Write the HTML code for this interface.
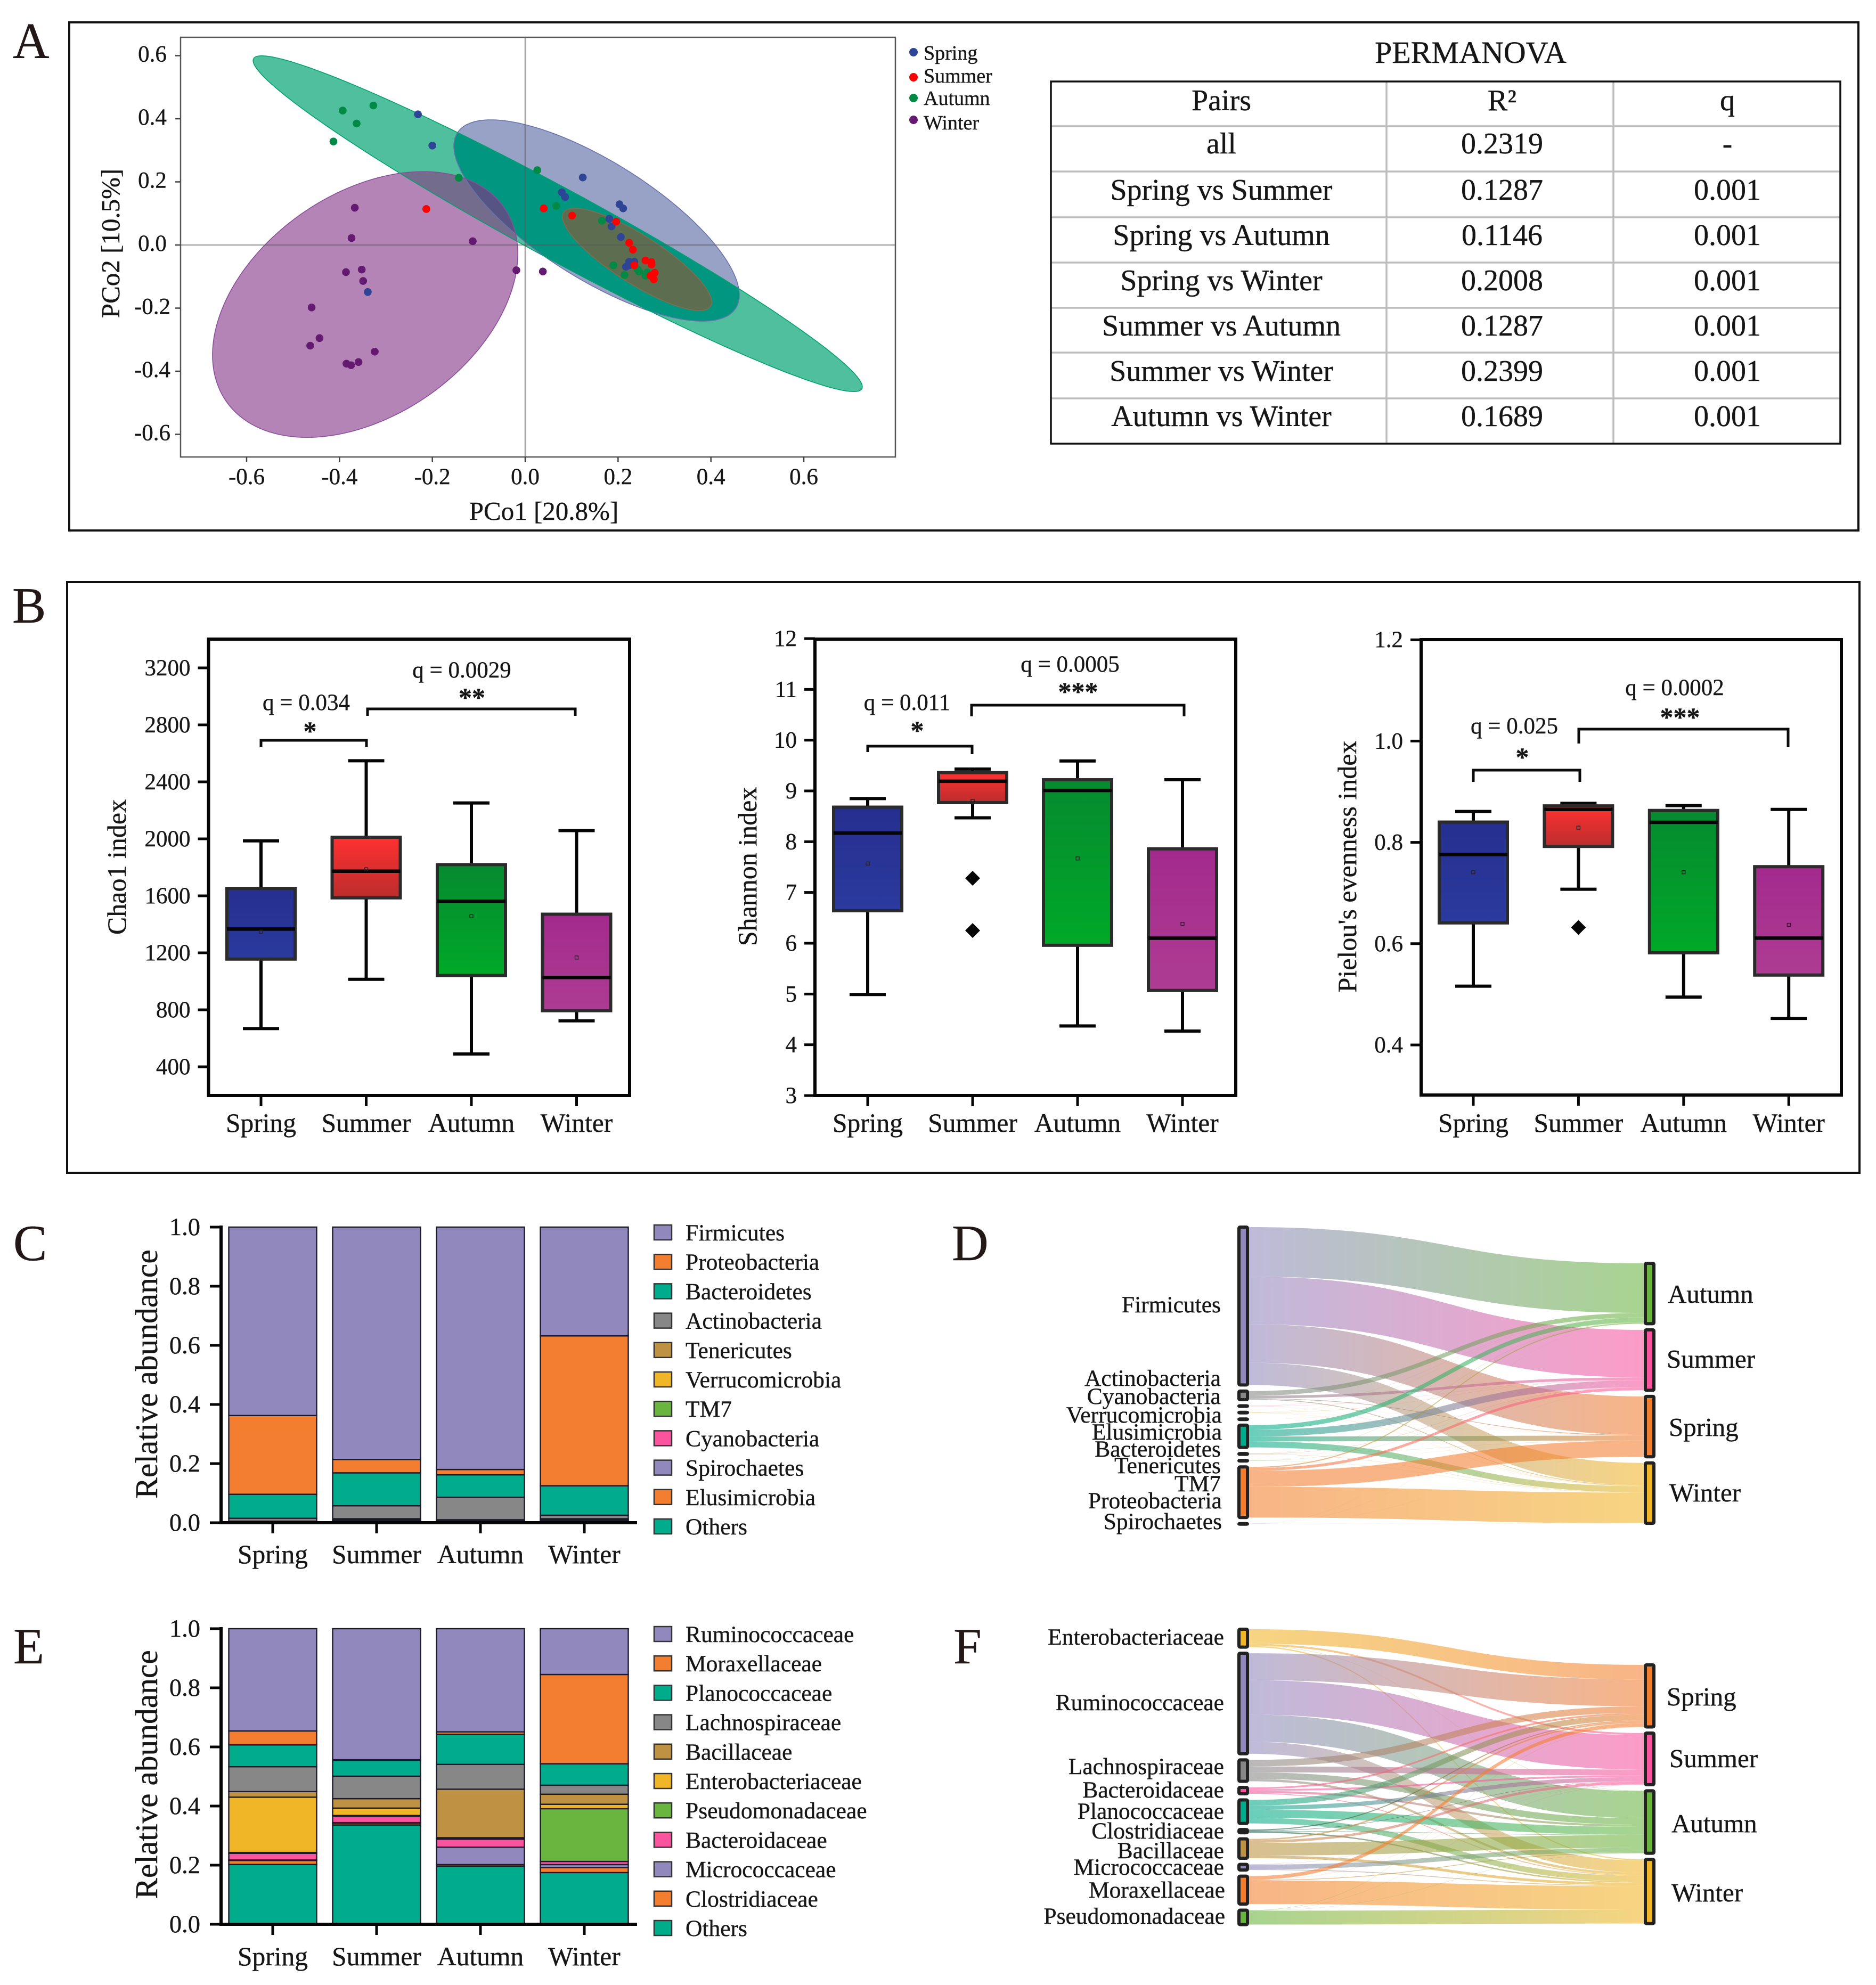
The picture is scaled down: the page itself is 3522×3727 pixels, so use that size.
<!DOCTYPE html>
<html lang="en">
<head>
<meta charset="utf-8">
<title>Seasonal microbiome composition figure</title>
<style>
html,body{margin:0;padding:0;background:#fff}
svg{display:block}
text{font-family:"Liberation Serif","Noto Serif CJK SC",serif;fill:#161616;stroke:#161616;stroke-width:.4}
.letter{font-size:95px;fill:#231815}
.tb{font-size:56px;text-anchor:middle}
.q{font-size:43px;text-anchor:middle}
.star{font-size:50px;font-weight:bold;text-anchor:middle}
.ylab{font-size:50px;text-anchor:middle}
.rel{font-size:59.5px;text-anchor:middle}
.sl{font-size:43.5px;text-anchor:end}
.sr{font-size:49px}
.lg{font-size:38px}
.bracket{fill:none;stroke:#0a0a0a;stroke-width:5}
</style>
</head>
<body>
<svg id="figure" xmlns="http://www.w3.org/2000/svg" width="3522" height="3727" viewBox="0 0 3522 3727">
<defs>
<linearGradient id="box-spring" x1="0" y1="0" x2="0" y2="1"><stop offset="0" stop-color="#252F8F"/><stop offset="1" stop-color="#2B3A9E"/></linearGradient>
<linearGradient id="box-summer" x1="0" y1="0" x2="0" y2="1"><stop offset="0" stop-color="#FF3030"/><stop offset="1" stop-color="#BC2E2E"/></linearGradient>
<linearGradient id="box-autumn" x1="0" y1="0" x2="0" y2="1"><stop offset="0" stop-color="#068A30"/><stop offset="1" stop-color="#00A928"/></linearGradient>
<linearGradient id="box-winter" x1="0" y1="0" x2="0" y2="1"><stop offset="0" stop-color="#A32A8D"/><stop offset="1" stop-color="#AE3C93"/></linearGradient>
</defs>
<rect width="3522" height="3727" fill="#fff"/>

<rect x="130" y="42" width="3359" height="954" fill="none" stroke="#111" stroke-width="4"/>
<rect x="126" y="1093" width="3365" height="1109" fill="none" stroke="#111" stroke-width="4"/>

<text class="letter" x="24" y="109">A</text>
<text class="letter" x="23" y="1169">B</text>
<text class="letter" x="25" y="2366">C</text>
<text class="letter" x="1787" y="2366">D</text>
<text class="letter" x="25" y="3123">E</text>
<text class="letter" x="1790" y="3123">F</text>

<g id="pcoa"></g>
<text x="1021" y="976" font-size="49" text-anchor="middle">PCo1 [20.8%]</text>
<text transform="translate(224 457) rotate(-90)" font-size="49" text-anchor="middle">PCo2 [10.5%]</text>
<text class="lg" x="1734" y="112">Spring</text>
<text class="lg" x="1734" y="155">Summer</text>
<text class="lg" x="1734" y="197">Autumn</text>
<text class="lg" x="1734" y="243">Winter</text>

<g>
<text x="2761" y="118" font-size="58" text-anchor="middle">PERMANOVA</text>
<g stroke="#bdbdbd" stroke-width="3.5">
<line x1="1973" x2="3455" y1="237" y2="237"/>
<line x1="1973" x2="3455" y1="322" y2="322"/>
<line x1="1973" x2="3455" y1="408" y2="408"/>
<line x1="1973" x2="3455" y1="493" y2="493"/>
<line x1="1973" x2="3455" y1="578" y2="578"/>
<line x1="1973" x2="3455" y1="662" y2="662"/>
<line x1="1973" x2="3455" y1="748" y2="748"/>
<line x1="2603" x2="2603" y1="153" y2="833"/>
<line x1="3029" x2="3029" y1="153" y2="833"/>
</g>
<rect x="1973" y="153" width="1482" height="680" fill="none" stroke="#111" stroke-width="3.5"/>
<text class="tb" x="2293" y="207">Pairs</text>
<text class="tb" x="2820" y="207">R²</text>
<text class="tb" x="3243" y="207">q</text>
<text class="tb" x="2293" y="288">all</text>
<text class="tb" x="2820" y="288">0.2319</text>
<text class="tb" x="3243" y="288">-</text>
<text class="tb" x="2293" y="375">Spring vs Summer</text>
<text class="tb" x="2820" y="375">0.1287</text>
<text class="tb" x="3243" y="375">0.001</text>
<text class="tb" x="2293" y="460">Spring vs Autumn</text>
<text class="tb" x="2820" y="460">0.1146</text>
<text class="tb" x="3243" y="460">0.001</text>
<text class="tb" x="2293" y="545">Spring vs Winter</text>
<text class="tb" x="2820" y="545">0.2008</text>
<text class="tb" x="3243" y="545">0.001</text>
<text class="tb" x="2293" y="630">Summer vs Autumn</text>
<text class="tb" x="2820" y="630">0.1287</text>
<text class="tb" x="3243" y="630">0.001</text>
<text class="tb" x="2293" y="715">Summer vs Winter</text>
<text class="tb" x="2820" y="715">0.2399</text>
<text class="tb" x="3243" y="715">0.001</text>
<text class="tb" x="2293" y="800">Autumn vs Winter</text>
<text class="tb" x="2820" y="800">0.1689</text>
<text class="tb" x="3243" y="800">0.001</text>
</g>

<g id="chao"></g>
<g id="shannon"></g>
<g id="pielou"></g>
<text class="ylab" transform="translate(236 1628) rotate(-90)">Chao1 index</text>
<text class="ylab" transform="translate(1420 1627) rotate(-90)">Shannon index</text>
<text class="ylab" transform="translate(2546 1627) rotate(-90)">Pielou's evenness index</text>

<path class="bracket" d="M490 1403V1390H688V1403"/>
<text class="star" x="582" y="1389">*</text>
<text class="q" x="575" y="1333">q = 0.034</text>
<path class="bracket" d="M690 1344V1331H1080V1344"/>
<text class="star" x="886" y="1326">**</text>
<text class="q" x="867" y="1272">q = 0.0029</text>

<path class="bracket" d="M1629 1412V1401H1825V1416"/>
<text class="star" x="1722" y="1388">*</text>
<text class="q" x="1703" y="1333">q = 0.011</text>
<path class="bracket" d="M1824 1345V1324H2223V1345"/>
<text class="star" x="2024" y="1315">***</text>
<text class="q" x="2009" y="1261">q = 0.0005</text>

<path class="bracket" d="M2766 1468V1446H2966V1468"/>
<text class="star" x="2858" y="1438">*</text>
<text class="q" x="2843" y="1377">q = 0.025</text>
<path class="bracket" d="M2964 1396V1369H3357V1403"/>
<text class="star" x="3154" y="1363">***</text>
<text class="q" x="3144" y="1305">q = 0.0002</text>

<g id="barC"></g>
<g id="barE"></g>
<text class="rel" transform="translate(295 2580) rotate(-90)">Relative abundance</text>
<text class="rel" transform="translate(295 3332) rotate(-90)">Relative abundance</text>

<g id="sankeyD"></g>
<g id="sankeyF"></g>

<text class="sl" x="2292" y="2464">Firmicutes</text>
<text class="sl" x="2292" y="2602">Actinobacteria</text>
<text class="sl" x="2292" y="2636">Cyanobacteria</text>
<text class="sl" x="2294" y="2671">Verrucomicrobia</text>
<text class="sl" x="2294" y="2703">Elusimicrobia</text>
<text class="sl" x="2292" y="2735">Bacteroidetes</text>
<text class="sl" x="2292" y="2766">Tenericutes</text>
<text class="sl" x="2292" y="2800">TM7</text>
<text class="sl" x="2294" y="2832">Proteobacteria</text>
<text class="sl" x="2294" y="2871">Spirochaetes</text>
<text class="sr" x="3131" y="2446">Autumn</text>
<text class="sr" x="3129" y="2568">Summer</text>
<text class="sr" x="3133" y="2696">Spring</text>
<text class="sr" x="3134" y="2819">Winter</text>

<text class="sl" x="2298" y="3088">Enterobacteriaceae</text>
<text class="sl" x="2298" y="3211">Ruminococcaceae</text>
<text class="sl" x="2298" y="3331">Lachnospiraceae</text>
<text class="sl" x="2298" y="3375">Bacteroidaceae</text>
<text class="sl" x="2298" y="3415">Planococcaceae</text>
<text class="sl" x="2298" y="3452">Clostridiaceae</text>
<text class="sl" x="2298" y="3489">Bacillaceae</text>
<text class="sl" x="2298" y="3520">Micrococcaceae</text>
<text class="sl" x="2300" y="3563">Moraxellaceae</text>
<text class="sl" x="2300" y="3612">Pseudomonadaceae</text>
<text class="sr" x="3129" y="3202">Spring</text>
<text class="sr" x="3134" y="3318">Summer</text>
<text class="sr" x="3138" y="3440">Autumn</text>
<text class="sr" x="3138" y="3570">Winter</text>
</svg>

<script>
/* ---------- shared categories ---------- */
const seasons = ['Spring', 'Summer', 'Autumn', 'Winter'];

/* ---------- panel A: PCoA values ---------- */
const pcoXTicks = [-0.6, -0.4, -0.2, 0, 0.2, 0.4, 0.6];
const pcoYTicks = [0.6, 0.4, 0.2, 0, -0.2, -0.4, -0.6];

const springPcoX = [-0.231, -0.200, 0.124, 0.079, 0.086, 0.203, 0.211, 0.181, 0.186, 0.206, 0.224, 0.235, 0.217, 0.224, -0.339];
const springPcoY = [0.414, 0.315, 0.214, 0.167, 0.152, 0.129, 0.116, 0.083, 0.059, 0.025, -0.053, -0.053, -0.069, -0.064, -0.149];
const summerPcoX = [-0.213, 0.040, 0.101, 0.196, 0.224, 0.232, 0.259, 0.272, 0.272, 0.235, 0.279, 0.277, 0.270];
const summerPcoY = [0.114, 0.116, 0.093, 0.074, 0.007, -0.015, -0.049, -0.054, -0.062, -0.064, -0.088, -0.109, -0.097];
const autumnPcoX = [-0.393, -0.327, -0.363, -0.413, -0.143, 0.026, 0.067, 0.165, 0.190, 0.214, 0.245, 0.242, 0.259, 0.263];
const autumnPcoY = [0.426, 0.442, 0.385, 0.328, 0.213, 0.237, 0.124, 0.077, -0.064, -0.095, -0.084, -0.077, -0.097, -0.087];
const winterPcoX = [-0.367, -0.374, -0.113, -0.019, 0.038, -0.386, -0.352, -0.349, -0.460, -0.443, -0.463, -0.324, -0.359, -0.385, -0.375];
const winterPcoY = [0.118, 0.022, 0.012, -0.080, -0.084, -0.086, -0.078, -0.114, -0.198, -0.295, -0.319, -0.338, -0.371, -0.376, -0.381];

/* ellipse summaries in data units: spring, summer, autumn, winter */
const ellipseCenterX = [0.1537, 0.2409, 0.070, -0.3447];
const ellipseCenterY = [0.0776, -0.0456, 0.0675, -0.1885];
const ellipseSpreadX = [0.3074, 0.1606, 0.656, 0.3287];
const ellipseSpreadY = [0.319, 0.162, 0.532, 0.4211];
const ellipseCorrelation = [-0.74, -0.835, -0.9715, 0.38];

/* ---------- panel B: box plot values (Spring, Summer, Autumn, Winter) ---------- */
const chaoTicks = [400, 800, 1200, 1600, 2000, 2400, 2800, 3200];
const chaoHigh = [1986, 2548, 2252, 2058];
const chaoQ3 = [1652, 2011, 1819, 1471];
const chaoMedian = [1367, 1773, 1562, 1027];
const chaoMean = [1348, 1786, 1457, 1167];
const chaoQ1 = [1156, 1586, 1041, 794];
const chaoLow = [668, 1014, 490, 723];
const chaoOutlierGroup = [];
const chaoOutlierValue = [];

const shannonTicks = [3, 4, 5, 6, 7, 8, 9, 10, 11, 12];
const shannonHigh = [8.85, 9.43, 9.59, 9.22];
const shannonQ3 = [8.68, 9.36, 9.22, 7.86];
const shannonMedian = [8.17, 9.19, 9.01, 6.10];
const shannonMean = [7.57, 8.80, 7.67, 6.38];
const shannonQ1 = [6.64, 8.77, 5.96, 5.07];
const shannonLow = [4.99, 8.47, 4.37, 4.27];
const shannonOutlierGroup = [1, 1];
const shannonOutlierValue = [7.28, 6.25];

const pielouTicks = [0.4, 0.6, 0.8, 1.0, 1.2];
const pielouHigh = [0.861, 0.877, 0.8725, 0.865];
const pielouQ3 = [0.840, 0.872, 0.863, 0.752];
const pielouMedian = [0.776, 0.865, 0.8395, 0.611];
const pielouMean = [0.741, 0.829, 0.741, 0.637];
const pielouQ1 = [0.641, 0.792, 0.582, 0.538];
const pielouLow = [0.516, 0.7075, 0.4945, 0.4525];
const pielouOutlierGroup = [1];
const pielouOutlierValue = [0.632];

/* ---------- panels C/D: phylum abundance by season ---------- */
const abundanceTicks = [0, 0.2, 0.4, 0.6, 0.8, 1.0];
const firmicutes = [0.6374, 0.786, 0.82, 0.368];
const proteobacteria = [0.2665, 0.0454, 0.018, 0.507];
const bacteroidetes = [0.0809, 0.1113, 0.076, 0.0997];
const actinobacteria = [0.0102, 0.0438, 0.0759, 0.0118];
const tenericutes = [0.002, 0.004, 0.003, 0.004];
const verrucomicrobia = [0.001, 0.003, 0.002, 0.003];
const tm7 = [0.0005, 0.002, 0.001, 0.002];
const cyanobacteria = [0.0005, 0.002, 0.002, 0.002];
const spirochaetes = [0.0003, 0.001, 0.001, 0.001];
const elusimicrobia = [0.0002, 0.0005, 0.0005, 0.0005];
const otherPhyla = [0.0005, 0.001, 0.0006, 0.001];

/* ---------- panels E/F: family abundance by season ---------- */
const ruminococcaceae = [0.346, 0.4435, 0.349, 0.155];
const moraxellaceae = [0.047, 0.0015, 0.0085, 0.302];
const planococcaceae = [0.074, 0.054, 0.1015, 0.0725];
const lachnospiraceae = [0.084, 0.076, 0.084, 0.0305];
const bacillaceae = [0.019, 0.032, 0.164, 0.034];
const enterobacteriaceae = [0.187, 0.025, 0.003, 0.015];
const pseudomonadaceae = [0.003, 0.002, 0.002, 0.1785];
const bacteroidaceae = [0.0225, 0.022, 0.027, 0.0105];
const micrococcaceae = [0.0015, 0.002, 0.059, 0.010];
const clostridiaceae = [0.0136, 0.006, 0.005, 0.017];
const otherFamilies = [0.2024, 0.336, 0.197, 0.175];

/* ---------- colours ---------- */
const PURPLE = '#9189BE', ORANGE = '#F37E2F', TEAL = '#00AC8B', GRAY = '#878787', TAN = '#BF9142', YELLOW = '#F1B627', GREEN = '#69B540', PINK = '#FA549F';
const seasonInk = ['#2E4494', '#FF0000', '#008A45', '#651A72'];
const seasonFlow = [ORANGE, PINK, GREEN, YELLOW];
const boxFills = ['url(#box-spring)', 'url(#box-summer)', 'url(#box-autumn)', 'url(#box-winter)'];

const phylumLegend = [
  ['Firmicutes', PURPLE, firmicutes], ['Proteobacteria', ORANGE, proteobacteria], ['Bacteroidetes', TEAL, bacteroidetes],
  ['Actinobacteria', GRAY, actinobacteria], ['Tenericutes', TAN, tenericutes], ['Verrucomicrobia', YELLOW, verrucomicrobia],
  ['TM7', GREEN, tm7], ['Cyanobacteria', PINK, cyanobacteria], ['Spirochaetes', PURPLE, spirochaetes],
  ['Elusimicrobia', ORANGE, elusimicrobia], ['Others', TEAL, otherPhyla]
];
const familyLegend = [
  ['Ruminococcaceae', PURPLE, ruminococcaceae], ['Moraxellaceae', ORANGE, moraxellaceae], ['Planococcaceae', TEAL, planococcaceae],
  ['Lachnospiraceae', GRAY, lachnospiraceae], ['Bacillaceae', TAN, bacillaceae], ['Enterobacteriaceae', YELLOW, enterobacteriaceae],
  ['Pseudomonadaceae', GREEN, pseudomonadaceae], ['Bacteroidaceae', PINK, bacteroidaceae], ['Micrococcaceae', PURPLE, micrococcaceae],
  ['Clostridiaceae', ORANGE, clostridiaceae], ['Others', TEAL, otherFamilies]
];
const phylumSankeySources = [
  [firmicutes, PURPLE], [actinobacteria, GRAY], [cyanobacteria, PINK], [verrucomicrobia, YELLOW], [elusimicrobia, ORANGE],
  [bacteroidetes, TEAL], [tenericutes, TAN], [tm7, GREEN], [proteobacteria, ORANGE], [spirochaetes, PURPLE]
];
const familySankeySources = [
  [enterobacteriaceae, YELLOW], [ruminococcaceae, PURPLE], [lachnospiraceae, GRAY], [bacteroidaceae, PINK], [planococcaceae, TEAL],
  [clostridiaceae, '#0b5a48'], [bacillaceae, TAN], [micrococcaceae, PURPLE], [moraxellaceae, ORANGE], [pseudomonadaceae, GREEN]
];

/* ---------- helpers ---------- */
const NS = 'http://www.w3.org/2000/svg';
function make(parent, tag, attrs, text) {
  const node = document.createElementNS(NS, tag);
  for (const k in attrs) node.setAttribute(k, attrs[k]);
  if (text !== undefined) node.textContent = text;
  parent.appendChild(node);
  return node;
}
const defs = document.querySelector('#figure defs');

/* ---------- panel A ---------- */
(function drawPcoa() {
  const g = document.getElementById('pcoa');
  const px = v => 986 + v * 871.7;
  const py = v => 460 - v * 592.5;
  const FR = { l: 339, r: 1681, t: 70, b: 858 };

  function ellipsePoints(i) {
    const delta = Math.acos(ellipseCorrelation[i]);
    const pts = [];
    for (let k = 0; k < 240; k++) {
      const t = k / 240 * 2 * Math.PI;
      pts.push(px(ellipseCenterX[i] + ellipseSpreadX[i] * Math.cos(t)).toFixed(1) + ',' +
               py(ellipseCenterY[i] + ellipseSpreadY[i] * Math.cos(t - delta)).toFixed(1));
    }
    return pts.join(' ');
  }
  const SPRING = 0, SUMMER = 1, AUTUMN = 2, WINTER = 3;
  const clipIds = ['clip-spring', 'clip-summer', 'clip-autumn', 'clip-winter'];
  [SPRING, AUTUMN, WINTER].forEach(i => {
    const cp = make(defs, 'clipPath', { id: clipIds[i] });
    make(cp, 'polygon', { points: ellipsePoints(i) });
  });

  const winterFill = make(g, 'polygon', { points: ellipsePoints(WINTER), fill: '#B484B6' });
  
  
  const springFill = make(g, 'polygon', { points: ellipsePoints(SPRING), fill: '#98A1C6' });
  
  
  const autumnFill = make(g, 'polygon', { points: ellipsePoints(AUTUMN), fill: '#4FBF9E' });
  
  

  const ws = make(g, 'polygon', { points: ellipsePoints(WINTER), fill: '#7A6AA0', 'clip-path': 'url(#clip-spring)' });
  
  
  const sa = make(g, 'polygon', { points: ellipsePoints(SPRING), fill: '#009680', 'clip-path': 'url(#clip-autumn)' });
  
  
  const wa = make(g, 'polygon', { points: ellipsePoints(WINTER), fill: '#736C8C', 'clip-path': 'url(#clip-autumn)' });
  
  
  const tripleGroup = make(g, 'g', { 'clip-path': 'url(#clip-autumn)' });
  const triple = make(tripleGroup, 'polygon', { points: ellipsePoints(WINTER), fill: '#565482', 'clip-path': 'url(#clip-spring)' });
  
  

  const outlines = [[SPRING, '#6873AC'], [AUTUMN, '#00A070'], [WINTER, '#8A4E9A']];
  outlines.forEach(o => {
    const ln = make(g, 'polygon', { points: ellipsePoints(o[0]), fill: 'none', stroke: o[1], 'stroke-width': 1.6 });
    
    
  });
  const summerFill = make(g, 'polygon', { points: ellipsePoints(SUMMER), fill: '#5D6E50', stroke: '#8A6A4A', 'stroke-width': 1.6 });
  
  

  const frame = make(g, 'rect', { x: FR.l, y: FR.t, width: FR.r - FR.l, height: FR.b - FR.t, fill: 'none', stroke: '#555', 'stroke-width': 2.5 });
  
  
  const zeroV = make(g, 'line', { x1: px(0), x2: px(0), y1: FR.t, y2: FR.b, stroke: 'rgba(90,90,90,.55)', 'stroke-width': 2.5 });
  
  
  const zeroH = make(g, 'line', { x1: FR.l, x2: FR.r, y1: py(0), y2: py(0), stroke: 'rgba(90,90,90,.55)', 'stroke-width': 2.5 });
  
  

  pcoXTicks.forEach(v => {
    const tick = make(g, 'line', { x1: px(v), x2: px(v), y1: FR.b, y2: FR.b + 9, stroke: '#444', 'stroke-width': 2.5 });
    
    
    const lab = make(g, 'text', { x: px(v), y: 909, 'font-size': 43, 'text-anchor': 'middle' }, v.toFixed(1));
    
    
  });
  pcoYTicks.forEach(v => {
    const tick = make(g, 'line', { x1: FR.l - 10, x2: FR.l, y1: py(v), y2: py(v), stroke: '#444', 'stroke-width': 2.5 });
    
    
    const lab = make(g, 'text', { x: 286, y: py(v) + 11, 'font-size': 43, 'text-anchor': 'middle' }, v.toFixed(1));
    
    
  });

  const series = [[springPcoX, springPcoY, 0], [autumnPcoX, autumnPcoY, 2], [summerPcoX, summerPcoY, 1], [winterPcoX, winterPcoY, 3]];
  series.forEach(s => {
    s[0].forEach((x, i) => {
      const dot = make(g, 'circle', { cx: px(x), cy: py(s[1][i]), r: 7.3, fill: seasonInk[s[2]] });
      
      
    });
  });
  const legendRow = c => [98, 145, 184, 225][c];
  seasons.forEach((s, c) => {
    const sw = make(g, 'circle', { cx: 1715, cy: legendRow(c), r: 8, fill: seasonInk[c] });
    
    
  });
})();

/* ---------- panel B ---------- */
function drawBox(c) {
  const g = document.getElementById(c.id);
  const frame = make(g, 'rect', { x: c.l, y: c.t, width: c.r - c.l, height: c.b - c.t, fill: 'none', stroke: '#050505', 'stroke-width': 6 });
  
  
  c.ticks.forEach(v => {
    const tick = make(g, 'line', { x1: c.l - 20, x2: c.l, y1: c.y(v), y2: c.y(v), stroke: '#050505', 'stroke-width': 5 });
    
    
    const lab = make(g, 'text', { x: c.l - 34, y: c.y(v) + 14, 'font-size': 43, 'text-anchor': 'end' }, c.fmt(v));
    
    
  });
  seasons.forEach((s, i) => {
    const x = c.x(i);
    const tick = make(g, 'line', { x1: x, x2: x, y1: c.b, y2: c.b + 20, stroke: '#050505', 'stroke-width': 5 });
    
    
    const lab = make(g, 'text', { x: x, y: 2125, 'font-size': 49.5, 'text-anchor': 'middle' }, s);
    
    

    const whisker = make(g, 'line', { x1: x, x2: x, y1: c.y(c.high[i]), y2: c.y(c.low[i]), stroke: '#050505', 'stroke-width': 6 });
    
    
    [c.high[i], c.low[i]].forEach(v => {
      const cap = make(g, 'line', { x1: x - 34, x2: x + 34, y1: c.y(v), y2: c.y(v), stroke: '#050505', 'stroke-width': 6 });
      
      
    });
    const box = make(g, 'rect', { x: x - 64, width: 128, y: c.y(c.q3[i]), height: c.y(c.q1[i]) - c.y(c.q3[i]), fill: boxFills[i], stroke: '#2b2b2b', 'stroke-width': 6 });
    
    
    const med = make(g, 'line', { x1: x - 64, x2: x + 64, y1: c.y(c.median[i]), y2: c.y(c.median[i]), stroke: '#050505', 'stroke-width': 6.5 });
    
    
    const mean = make(g, 'rect', { x: x - 3, y: c.y(c.mean[i]) - 3, width: 6, height: 6, fill: 'none', stroke: '#222', 'stroke-width': 1.4 });
    
    
  });
  c.outGroup.forEach((grp, i) => {
    const x = c.x(grp), y = c.y(c.outValue[i]);
    const d = make(g, 'polygon', { points: [x, y - 14, x + 14, y, x, y + 14, x - 14, y].join(' '), fill: '#050505' });
    
    
  });
}
drawBox({ id: 'chao', l: 391.5, r: 1182, t: 1200, b: 2057, x: i => 490 + i * 197.5, y: v => 2003 - (v - 400) * 0.2675, ticks: chaoTicks, fmt: v => String(v),
  high: chaoHigh, q3: chaoQ3, median: chaoMedian, mean: chaoMean, q1: chaoQ1, low: chaoLow, outGroup: chaoOutlierGroup, outValue: chaoOutlierValue });
drawBox({ id: 'shannon', l: 1530, r: 2320, t: 1200, b: 2057, x: i => 1629 + i * 197, y: v => 2057 - (v - 3) * 95.33, ticks: shannonTicks, fmt: v => String(v),
  high: shannonHigh, q3: shannonQ3, median: shannonMedian, mean: shannonMean, q1: shannonQ1, low: shannonLow, outGroup: shannonOutlierGroup, outValue: shannonOutlierValue });
drawBox({ id: 'pielou', l: 2668, r: 3457, t: 1201, b: 2056, x: i => 2766 + i * 197.4, y: v => 1962 - (v - 0.4) * 951, ticks: pielouTicks, fmt: v => v.toFixed(1),
  high: pielouHigh, q3: pielouQ3, median: pielouMedian, mean: pielouMean, q1: pielouQ1, low: pielouLow, outGroup: pielouOutlierGroup, outValue: pielouOutlierValue });

/* ---------- panels C and E ---------- */
function drawStack(id, legend, zero, catBase) {
  const g = document.getElementById(id);
  const y = v => zero - 555 * v;
  const x = i => 512 + i * 195;
  seasons.forEach((s, i) => {
    let acc = 0;
    for (let k = legend.length - 1; k >= 0; k--) {
      const val = legend[k][2][i];
      const seg = make(g, 'rect', { x: x(i) - 82.5, width: 165, y: y(acc + val), height: y(acc) - y(acc + val), fill: legend[k][1], stroke: '#1a1a2a', 'stroke-width': 2.4 });
      
      
      acc += val;
    }
    const tick = make(g, 'line', { x1: x(i), x2: x(i), y1: zero, y2: zero + 20, stroke: '#050505', 'stroke-width': 5 });
    
    
    const lab = make(g, 'text', { x: x(i), y: catBase, 'font-size': 49.5, 'text-anchor': 'middle' }, s);
    
    
  });
  const yAxis = make(g, 'line', { x1: 415, x2: 415, y1: y(1) - 3, y2: zero + 3, stroke: '#050505', 'stroke-width': 6 });
  
  
  const xAxis = make(g, 'line', { x1: 415, x2: 1196, y1: zero, y2: zero, stroke: '#050505', 'stroke-width': 6 });
  
  
  abundanceTicks.forEach(v => {
    const tick = make(g, 'line', { x1: 394, x2: 415, y1: y(v), y2: y(v), stroke: '#050505', 'stroke-width': 5 });
    
    
    const lab = make(g, 'text', { x: 376, y: y(v) + 15, 'font-size': 46.5, 'text-anchor': 'end' }, v.toFixed(1));
    
    
  });
  legend.forEach((row, k) => {
    const top = zero - 559 + k * 55.2;
    const sw = make(g, 'rect', { x: 1228, y: top, width: 33, height: 28, fill: row[1], stroke: '#333', 'stroke-width': 2.5 });
    
    
    const lab = make(g, 'text', { x: 1287, y: top + 29, 'font-size': 43.5 }, row[0]);
    
    
  });
}
drawStack('barC', phylumLegend, 2859, 2935);
drawStack('barE', familyLegend, 3613, 3690);

/* ---------- panels D and F ---------- */
function drawSankey(id, sources, targetOrder, cfg) {
  const g = document.getElementById(id);
  const X0 = 2345, X1 = 3086, XM = (X0 + X1) / 2, LEFT = 2334, RIGHT = 3097, PAD = 11.5;
  const srcTotals = sources.map(s => s[0].reduce((a, b) => a + b, 0));
  const tgtTotals = targetOrder.map(t => sources.reduce((a, s) => a + s[0][t], 0));

  const srcTop = [];
  let yy = cfg.leftTop;
  srcTotals.forEach(v => { srcTop.push(yy); yy += v * cfg.scale + PAD; });
  const tgtTop = [];
  yy = cfg.rightTop;
  tgtTotals.forEach(v => { tgtTop.push(yy); yy += v * cfg.scale + PAD; });

  const tgtCursor = tgtTop.slice();
  sources.forEach((src, si) => {
    let sCursor = srcTop[si];
    targetOrder.forEach((t, ti) => {
      const h = src[0][t] * cfg.scale;
      const s0 = sCursor, s1 = sCursor + h, t0 = tgtCursor[ti], t1 = tgtCursor[ti] + h;
      sCursor = s1;
      tgtCursor[ti] = t1;
      const gid = id + '-g' + si + '-' + t;
      const lg = make(defs, 'linearGradient', { id: gid, gradientUnits: 'userSpaceOnUse', x1: X0, x2: X1, y1: 0, y2: 0 });
      make(lg, 'stop', { offset: 0, 'stop-color': src[1] });
      make(lg, 'stop', { offset: 1, 'stop-color': seasonFlow[t] });
      const d = 'M' + X0 + ' ' + s0 + 'C' + XM + ' ' + s0 + ' ' + XM + ' ' + t0 + ' ' + X1 + ' ' + t0 +
                'L' + X1 + ' ' + t1 + 'C' + XM + ' ' + t1 + ' ' + XM + ' ' + s1 + ' ' + X0 + ' ' + s1 + 'Z';
      const band = make(g, 'path', { d: d, fill: 'url(#' + gid + ')', 'fill-opacity': 0.58 });
      
      
    });
  });
  sources.forEach((src, si) => {
    const node = make(g, 'rect', { x: LEFT - 8, width: 16, y: srcTop[si], height: Math.max(srcTotals[si] * cfg.scale, 1), rx: 2, fill: src[1], stroke: '#222', 'stroke-width': 6 });
    
    
  });
  targetOrder.forEach((t, ti) => {
    const node = make(g, 'rect', { x: RIGHT - 8, width: 16, y: tgtTop[ti], height: tgtTotals[ti] * cfg.scale, rx: 2, fill: seasonFlow[t], stroke: '#222', 'stroke-width': 6 });
    
    
  });
}
drawSankey('sankeyD', phylumSankeySources, [2, 1, 0, 3], { leftTop: 2304, rightTop: 2372, scale: 113.5 });
drawSankey('sankeyF', familySankeySources, [0, 1, 2, 3], { leftTop: 3059, rightTop: 3126, scale: 146 });
</script>
</body>
</html>
